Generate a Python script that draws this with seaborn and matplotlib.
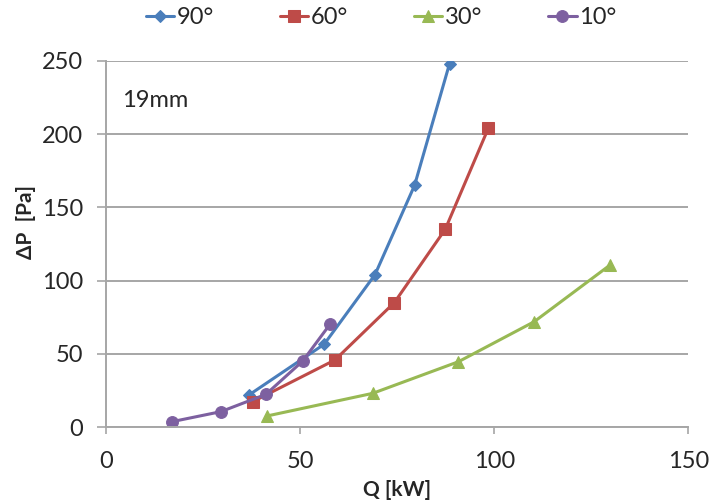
import matplotlib
matplotlib.use("Agg")
import matplotlib.pyplot as plt
import seaborn as sns
import pandas as pd

# Pressure drop vs. heat load for four inclination angles (19 mm)
q_90 = [36.9, 56.2, 69.3, 79.5, 88.5]
dp_90 = [22.0, 56.5, 104.0, 165.0, 248.0]

q_60 = [37.8, 59.0, 74.3, 87.4, 98.5]
dp_60 = [17.3, 45.8, 85.0, 135.0, 204.0]

q_30 = [41.4, 68.7, 90.8, 110.3, 129.9]
dp_30 = [7.5, 23.0, 44.6, 71.9, 110.7]

q_10 = [16.9, 29.6, 41.2, 50.7, 57.7]
dp_10 = [3.6, 10.5, 22.3, 45.1, 70.1]

labels = ["90°", "60°", "30°", "10°"]
x_ticks = [0, 50, 100, 150]
y_ticks = [0, 50, 100, 150, 200, 250]

frames = []
for lab, q, dp in zip(labels, [q_90, q_60, q_30, q_10], [dp_90, dp_60, dp_30, dp_10]):
    frames.append(pd.DataFrame({"Q": q, "dP": dp, "angle": lab}))
df = pd.concat(frames, ignore_index=True)

sns.set_theme(style="white")
plt.rcParams["font.family"] = ["Lato", "DejaVu Sans"]

colors = {"90°": "#4A7EBB", "60°": "#BE4B48", "30°": "#98B954", "10°": "#7D60A0"}
markers = {"90°": "D", "60°": "s", "30°": "^", "10°": "o"}
msizes = {"90°": 6, "60°": 8.5, "30°": 8.5, "10°": 8.5}

fig = plt.figure(figsize=(7.11, 5.03), dpi=100)
ax = fig.add_axes([0.149, 0.151, 0.819, 0.728])

for lab in labels:
    sub = df[df["angle"] == lab]
    sns.lineplot(data=sub, x="Q", y="dP", ax=ax, color=colors[lab],
                 marker=markers[lab], markersize=msizes[lab],
                 markeredgecolor=colors[lab], linewidth=2.2,
                 sort=False, estimator=None, label=lab)

ax.set_xlim(0, 150)
ax.set_ylim(0, 250)
ax.set_xticks(x_ticks)
ax.set_yticks(y_ticks)

grid_c = "#A6A6A6"
ax.yaxis.grid(True, color=grid_c, linewidth=1.4)
ax.xaxis.grid(False)
for s in ["top", "right"]:
    ax.spines[s].set_visible(False)
for s in ["left", "bottom"]:
    ax.spines[s].set_color(grid_c)
    ax.spines[s].set_linewidth(1.4)

ax.tick_params(axis="y", which="major", direction="out", length=6.5, width=1.2,
               color=grid_c, pad=10, labelsize=17, labelcolor="#262626", left=True)
ax.tick_params(axis="x", which="major", direction="out", length=5, width=1.2,
               color=grid_c, pad=12, labelsize=17, labelcolor="#262626", bottom=True)

ax.set_xlabel("Q [kW]", fontsize=15, fontweight="bold", color="#262626")
ax.set_ylabel("ΔP  [Pa]", fontsize=15, fontweight="bold", color="#262626")
ax.yaxis.set_label_coords(-0.12, 0.56)
ax.xaxis.set_label_coords(0.5, -0.145)

ax.text(0.027, 0.893, "19mm", transform=ax.transAxes, fontsize=17,
        color="#262626", va="center", ha="left")

handles, labs = ax.get_legend_handles_labels()
ax.get_legend().remove()
fig.legend(handles, labs, loc="center", bbox_to_anchor=(381 / 711, 1 - 18 / 503),
           ncol=4, frameon=False, fontsize=17, handlelength=1.2,
           handletextpad=0.1, columnspacing=2.8, labelcolor="#262626")

fig.savefig("out.png", dpi=100)
